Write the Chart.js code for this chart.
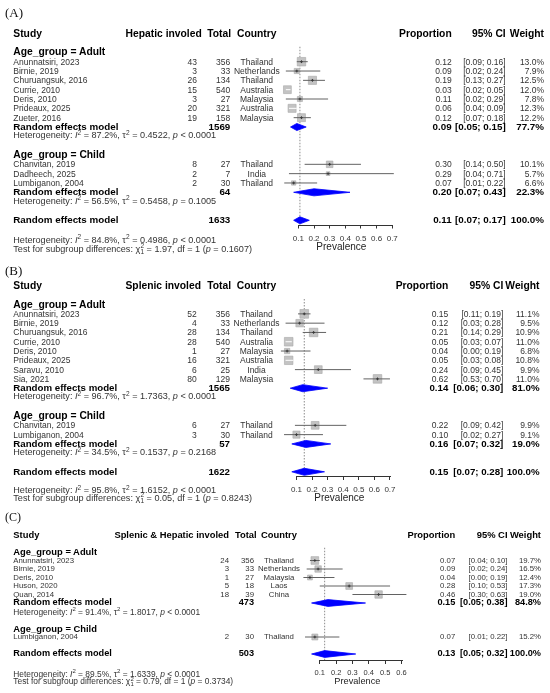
<!DOCTYPE html>
<html>
<head>
<meta charset="utf-8">
<script src="https://cdn.jsdelivr.net/npm/chart.js@4.4.1/dist/chart.umd.min.js"></script>
<style>
html,body{margin:0;padding:0;background:#fff;}
#root{position:relative;width:550px;height:693px;overflow:hidden;font-family:"Liberation Sans",Arial,Helvetica,sans-serif;}
#root canvas{position:absolute;left:0;}
.t{position:absolute;white-space:nowrap;line-height:1;color:#333;}
.sup{position:relative;top:-0.5em;font-size:0.72em;}
.ss{position:relative;display:inline-block;width:0.42em;height:0;}
.ss .sp,.ss .sb{position:absolute;left:0.05em;font-size:0.72em;line-height:1;}
.ss .sp{top:-1.37em;}
.ss .sb{top:-0.43em;}
.lab{font-family:"Liberation Serif","Times New Roman",serif;color:#111;}
</style>
</head>
<body>
<div id="root"></div>
<script>
// ================= DATA =================
// Shared x-axis ticks
const xTicksAB = [0.1, 0.2, 0.3, 0.4, 0.5, 0.6, 0.7];
const xTickLabelsAB = ["0.1", "0.2", "0.3", "0.4", "0.5", "0.6", "0.7"];
const xTicksC = [0.1, 0.2, 0.3, 0.4, 0.5, 0.6];
const xTickLabelsC = ["0.1", "0.2", "0.3", "0.4", "0.5", "0.6"];

// ---- (A) Hepatic involvement ----
const hepStudy = ["Anunnatsiri, 2023", "Birnie, 2019", "Churuangsuk, 2016", "Currie, 2010", "Deris, 2010", "Prideaux, 2025", "Zueter, 2016", "Chanvitan, 2019", "Dadheech, 2025", "Lumbiganon, 2004"];
const hepGroup = ["Adult", "Adult", "Adult", "Adult", "Adult", "Adult", "Adult", "Child", "Child", "Child"];
const hepEvents = [43, 3, 26, 15, 3, 20, 19, 8, 2, 2];
const hepTotal = [356, 33, 134, 540, 27, 321, 158, 27, 7, 30];
const hepCountry = ["Thailand", "Netherlands", "Thailand", "Australia", "Malaysia", "Australia", "Malaysia", "Thailand", "India", "Thailand"];
const hepProp = [0.12, 0.09, 0.19, 0.03, 0.11, 0.06, 0.12, 0.30, 0.29, 0.07];
const hepLower = [0.09, 0.02, 0.13, 0.02, 0.02, 0.04, 0.07, 0.14, 0.04, 0.01];
const hepUpper = [0.16, 0.24, 0.27, 0.05, 0.29, 0.09, 0.18, 0.50, 0.71, 0.22];
const hepWeight = [13.0, 7.9, 12.5, 12.0, 7.8, 12.3, 12.2, 10.1, 5.7, 6.6];
const hepSubgroups = ["Adult", "Child"];
const hepSubTotal = [1569, 64];
const hepSubProp = [0.09, 0.20];
const hepSubLower = [0.05, 0.07];
const hepSubUpper = [0.15, 0.43];
const hepSubWeight = [77.7, 22.3];
const hepSubI2 = [87.2, 56.5];
const hepSubTau2 = [0.4522, 0.5458];
const hepSubP = ["< 0.0001", "= 0.1005"];
const hepOverallTotal = 1633;
const hepOverallEst = [0.11, 0.07, 0.17, 100.0];   // prop, lower, upper, weight
const hepOverallHet = [84.8, 0.4986, "< 0.0001"];   // I2, tau2, p
const hepSubgroupTest = [1.97, 1, "0.1607"];        // chi2, df, p

// ---- (B) Splenic involvement ----
const splStudy = ["Anunnatsiri, 2023", "Birnie, 2019", "Churuangsuk, 2016", "Currie, 2010", "Deris, 2010", "Prideaux, 2025", "Saravu, 2010", "Sia, 2021", "Chanvitan, 2019", "Lumbiganon, 2004"];
const splGroup = ["Adult", "Adult", "Adult", "Adult", "Adult", "Adult", "Adult", "Adult", "Child", "Child"];
const splEvents = [52, 4, 28, 28, 1, 16, 6, 80, 6, 3];
const splTotal = [356, 33, 134, 540, 27, 321, 25, 129, 27, 30];
const splCountry = ["Thailand", "Netherlands", "Thailand", "Australia", "Malaysia", "Australia", "India", "Malaysia", "Thailand", "Thailand"];
const splProp = [0.15, 0.12, 0.21, 0.05, 0.04, 0.05, 0.24, 0.62, 0.22, 0.10];
const splLower = [0.11, 0.03, 0.14, 0.03, 0.00, 0.03, 0.09, 0.53, 0.09, 0.02];
const splUpper = [0.19, 0.28, 0.29, 0.07, 0.19, 0.08, 0.45, 0.70, 0.42, 0.27];
const splWeight = [11.1, 9.5, 10.9, 11.0, 6.8, 10.8, 9.9, 11.0, 9.9, 9.1];
const splSubgroups = ["Adult", "Child"];
const splSubTotal = [1565, 57];
const splSubProp = [0.14, 0.16];
const splSubLower = [0.06, 0.07];
const splSubUpper = [0.30, 0.32];
const splSubWeight = [81.0, 19.0];
const splSubI2 = [96.7, 34.5];
const splSubTau2 = [1.7363, 0.1537];
const splSubP = ["< 0.0001", "= 0.2168"];
const splOverallTotal = 1622;
const splOverallEst = [0.15, 0.07, 0.28, 100.0];
const splOverallHet = [95.8, 1.6152, "< 0.0001"];
const splSubgroupTest = [0.05, 1, "0.8243"];

// ---- (C) Splenic & hepatic involvement ----
const bothStudy = ["Anunnatsiri, 2023", "Birnie, 2019", "Deris, 2010", "Huson, 2020", "Quan, 2014", "Lumbiganon, 2004"];
const bothGroup = ["Adult", "Adult", "Adult", "Adult", "Adult", "Child"];
const bothEvents = [24, 3, 1, 5, 18, 2];
const bothTotal = [356, 33, 27, 18, 39, 30];
const bothCountry = ["Thailand", "Netherlands", "Malaysia", "Laos", "China", "Thailand"];
const bothProp = [0.07, 0.09, 0.04, 0.28, 0.46, 0.07];
const bothLower = [0.04, 0.02, 0.00, 0.10, 0.30, 0.01];
const bothUpper = [0.10, 0.24, 0.19, 0.53, 0.63, 0.22];
const bothWeight = [19.7, 16.5, 12.4, 17.3, 19.0, 15.2];
const bothSubgroups = ["Adult", "Child"];
const bothSubTotal = [473, null];
const bothSubProp = [0.15, null];
const bothSubLower = [0.05, null];
const bothSubUpper = [0.38, null];
const bothSubWeight = [84.8, null];
const bothSubI2 = [91.4, null];
const bothSubTau2 = [1.8017, null];
const bothSubP = ["< 0.0001", null];
const bothOverallTotal = 503;
const bothOverallEst = [0.13, 0.05, 0.32, 100.0];
const bothOverallHet = [89.5, 1.6339, "< 0.0001"];
const bothSubgroupTest = [0.79, 1, "0.3734"];

// ================= LAYOUT (styles / positions) =================
const layoutA = {top: 0, height: 262, px0: 282.7, unit: 156.5, xmax: 0.75, axisY: 224.5, row0: 33.7, step: 9.33,
  hetY: 240.7, testY: 250, labelY: 12, labelSize: 13, reg: 8.5, het: 9.1, bold: 10.3, sumBold: 9.8, tickFont: 8, titleFont: 10,
  tickPad: 5.5, titlePadTop: -8, boxMax: 8.5, dH: 0.38, refTop: 1.4,
  cols: {study: 13.3, evHdrR: 201.7, evR: 197, totHdrR: 231, totR: 230.3, countryC: 256.8, propR: 451.7, ciR: 505.7, wR: 544}};
const layoutB = {top: 262, height: 248, px0: 280.9, unit: 155.8, xmax: 0.75, axisY: 476, row0: 286, step: 9.29,
  hetY: 491, testY: 499.3, labelY: 270, labelSize: 13, reg: 8.5, het: 9.1, bold: 10.3, sumBold: 9.7, tickFont: 8, titleFont: 10,
  tickPad: 4.5, titlePadTop: -6.8, boxMax: 8.7, dH: 0.38, refTop: 1.4,
  cols: {study: 13.3, evHdrR: 201, evR: 196.7, totHdrR: 231, totR: 230, countryC: 256.5, propR: 448.3, ciR: 503.3, wR: 539.5}};
const layoutC = {top: 510, height: 183, px0: 303.4, unit: 163.5, xmax: 0.66, axisY: 660, row0: 535, step: 8.5,
  hetY: 673.5, testY: 681, labelY: 516.7, labelSize: 12, reg: 7.8, het: 8.4, bold: 9.4, sumBold: 9.2, tickFont: 7.5, titleFont: 9.2,
  tickPad: 4.8, titlePadTop: -7, boxMax: 7.7, dH: 0.4, refTop: 1.5,
  cols: {study: 13.3, evHdrR: 229, evR: 229, totHdrR: 256.7, totR: 254, countryC: 279, propR: 455.3, ciR: 507.5, wR: 541}};

// ================= RENDER =================
const root = document.getElementById('root');
Chart.defaults.font.family = '"Liberation Sans", Arial, sans-serif';
const esc = s => String(s).replace(/&/g, '&amp;').replace(/</g, '&lt;').replace(/>/g, '&gt;');

function put(html, x, y, size, align, bold, extraClass) {
  const d = document.createElement('div');
  d.className = 't' + (extraClass ? ' ' + extraClass : '');
  d.innerHTML = html;
  d.style.left = x + 'px';
  d.style.top = y + 'px';
  d.style.fontSize = size + 'px';
  if (bold) { d.style.fontWeight = 'bold'; d.style.color = '#000'; }
  const tx = align === 'r' ? '-100%' : align === 'c' ? '-50%' : '0';
  d.style.transform = 'translate(' + tx + ',-50%)';
  root.appendChild(d);
}
const hetHTML = (i2, tau2, p) =>
  'Heterogeneity: <i>I</i><span class="sup">2</span> = ' + i2.toFixed(1) + '%, \u03c4<span class="sup">2</span> = ' +
  tau2.toFixed(4) + ', <i>p</i> ' + esc(p);
const testHTML = (chi2, df, p) =>
  'Test for subgroup differences: \u03c7<span class="ss"><span class="sp">2</span><span class="sb">' + df +
  '</span></span> = ' + chi2.toFixed(2) + ', df = ' + df + ' (<i>p</i> = ' + p + ')';
const ci = (lo, hi) => '[' + lo.toFixed(2) + '; ' + hi.toFixed(2) + ']';

const axisLinePlugin = {
  id: 'axisLine',
  afterDraw(chart) {
    const xs = chart.scales.x, t = xs.ticks, ctx = chart.ctx;
    const y = Math.round(chart.chartArea.bottom) + 0.5;
    ctx.save();
    ctx.strokeStyle = '#333';
    ctx.lineWidth = 1;
    ctx.beginPath();
    ctx.moveTo(Math.round(xs.getPixelForValue(t[0].value)), y);
    ctx.lineTo(Math.round(xs.getPixelForValue(t[t.length - 1].value)) + 1, y);
    ctx.stroke();
    ctx.restore();
  }
};

function makePanel(P, L) {
  const cv = document.createElement('canvas');
  cv.width = 550; cv.height = L.height;
  cv.style.top = L.top + 'px'; cv.style.width = '550px'; cv.style.height = L.height + 'px';
  root.appendChild(cv);

  // row assignment
  const rows = [];
  let r = 2;
  P.subgroups.forEach((g, gi) => {
    rows.push({kind: 'heading', r, gi}); r++;
    P.group.forEach((gg, i) => { if (gg === g) { rows.push({kind: 'study', r, i}); r++; } });
    if (P.subTotal[gi] != null) { rows.push({kind: 'sub', r, gi}); r++; rows.push({kind: 'het', r, gi}); r++; }
    r++;
  });
  const overallRow = r;
  const studyRow = {};
  rows.forEach(o => { if (o.kind === 'study') studyRow[o.i] = o.r; });

  const maxW = Math.max(...P.weight);
  const sides = P.weight.map(w => L.boxMax * w / maxW);
  const inside = P.prop.map((v, i) => (P.hi[i] - P.lo[i]) * L.unit <= sides[i]);

  const datasets = [];
  datasets.push({type: 'line', data: [{x: P.ovEst[0], y: L.refTop}, {x: P.ovEst[0], y: 100}],
    borderColor: '#8c8c8c', borderWidth: 1, borderDash: [1.5, 1.5], pointRadius: 0, order: 10});
  datasets.push({type: 'scatter', data: P.prop.map((v, i) => ({x: v, y: studyRow[i]})),
    pointStyle: 'rect', pointRadius: sides.map(s => s / Math.SQRT2), backgroundColor: '#c3c3c3',
    borderColor: '#a8a8a8', borderWidth: 0.6, order: 5, clip: false});
  P.prop.forEach((v, i) => {
    datasets.push({type: 'line', data: [{x: P.lo[i], y: studyRow[i]}, {x: P.hi[i], y: studyRow[i]}],
      borderColor: inside[i] ? '#ffffff' : '#626262', borderWidth: 1, pointRadius: 0, order: 2, clip: false});
  });
  datasets.push({type: 'scatter', data: P.prop.map((v, i) => ({x: v, y: studyRow[i]})).filter((d, i) => !inside[i]),
    pointStyle: 'cross', pointRadius: 1.4, borderColor: '#3a3a3a', borderWidth: 1, order: 1, clip: false});
  const diamond = (row, est, lo, hi) => ({type: 'line',
    data: [{x: lo, y: row}, {x: est, y: row - L.dH}, {x: hi, y: row}, {x: est, y: row + L.dH}, {x: lo, y: row}],
    fill: 'shape', backgroundColor: '#0000ff', borderColor: '#0000ff', borderWidth: 0.8, pointRadius: 0,
    tension: 0, order: 0, clip: false});
  rows.forEach(o => {
    if (o.kind === 'sub') datasets.push(diamond(o.r, P.subProp[o.gi], P.subLo[o.gi], P.subHi[o.gi]));
  });
  datasets.push(diamond(overallRow, P.ovEst[0], P.ovEst[1], P.ovEst[2]));

  const padding = {left: L.px0, right: 550 - (L.px0 + L.xmax * L.unit), top: 0, bottom: 8};
  const chart = new Chart(cv.getContext('2d'), {
    type: 'scatter',
    data: {datasets},
    options: {
      responsive: false, animation: false, events: [],
      layout: {padding},
      plugins: {legend: {display: false}, tooltip: {enabled: false}},
      scales: {
        x: {
          type: 'linear', position: 'bottom', min: 0, max: L.xmax,
          afterBuildTicks: s => { s.ticks = P.ticks.map(v => ({value: v})); },
          ticks: {autoSkip: false, maxRotation: 0, minRotation: 0, padding: L.tickPad,
            font: {size: L.tickFont}, color: '#333', callback: (v, i) => P.tickLabels[i]},
          grid: {display: true, drawOnChartArea: false, drawTicks: true, tickLength: 4, color: '#333', lineWidth: 1},
          border: {display: false},
          title: {display: true, text: 'Prevalence', font: {size: L.titleFont}, color: '#222',
            padding: {top: L.titlePadTop, bottom: 0}}
        },
        y: {type: 'linear', display: false, reverse: true, min: -4, max: 25}
      }
    },
    plugins: [axisLinePlugin]
  });
  for (let k = 0; k < 2; k++) {
    padding.bottom += chart.chartArea.bottom - (L.axisY - L.top);
    chart.update('none');
  }
  const ca = chart.chartArea;
  chart.config.options.scales.y.min = (L.top + ca.top - L.row0) / L.step;
  chart.config.options.scales.y.max = (L.top + ca.bottom - L.row0) / L.step;
  chart.update('none');

  // ----- text columns, placed through the y scale -----
  const ys = chart.scales.y;
  const Y = row => L.top + ys.getPixelForValue(row);
  const C = L.cols;
  put(P.label, 5, L.labelY, L.labelSize, 'l', false, 'lab');
  const y0 = Y(0);
  put('Study', C.study, y0, L.bold, 'l', true);
  put(esc(P.eventsHeader), C.evHdrR, y0, L.bold, 'r', true);
  put('Total', C.totHdrR, y0, L.bold, 'r', true);
  put('Country', C.countryC, y0, L.bold, 'c', true);
  put('Proportion', C.propR, y0, L.bold, 'r', true);
  put('95% CI', C.ciR, y0, L.bold, 'r', true);
  put('Weight', C.wR, y0, L.bold, 'r', true);
  rows.forEach(o => {
    const y = Y(o.r);
    if (o.kind === 'heading') {
      put('Age_group = ' + P.subgroups[o.gi], C.study, y, L.bold, 'l', true);
    } else if (o.kind === 'study') {
      const i = o.i;
      put(esc(P.study[i]), C.study, y, L.reg, 'l');
      put(String(P.events[i]), C.evR, y, L.reg, 'r');
      put(String(P.total[i]), C.totR, y, L.reg, 'r');
      put(P.country[i], C.countryC, y, L.reg, 'c');
      put(P.prop[i].toFixed(2), C.propR, y, L.reg, 'r');
      put(ci(P.lo[i], P.hi[i]), C.ciR, y, L.reg, 'r');
      put(P.weight[i].toFixed(1) + '%', C.wR, y, L.reg, 'r');
    } else if (o.kind === 'sub') {
      const g = o.gi;
      put('Random effects model', C.study, y, L.sumBold, 'l', true);
      put(String(P.subTotal[g]), C.totR, y, L.sumBold, 'r', true);
      put(P.subProp[g].toFixed(2), C.propR, y, L.sumBold, 'r', true);
      put(ci(P.subLo[g], P.subHi[g]), C.ciR, y, L.sumBold, 'r', true);
      put(P.subW[g].toFixed(1) + '%', C.wR, y, L.sumBold, 'r', true);
    } else if (o.kind === 'het') {
      const g = o.gi;
      put(hetHTML(P.subI2[g], P.subTau2[g], P.subP[g]), C.study, y, L.het, 'l');
    }
  });
  const yo = Y(overallRow);
  put('Random effects model', C.study, yo, L.sumBold, 'l', true);
  put(String(P.ovTotal), C.totR, yo, L.sumBold, 'r', true);
  put(P.ovEst[0].toFixed(2), C.propR, yo, L.sumBold, 'r', true);
  put(ci(P.ovEst[1], P.ovEst[2]), C.ciR, yo, L.sumBold, 'r', true);
  put(P.ovEst[3].toFixed(1) + '%', C.wR, yo, L.sumBold, 'r', true);
  put(hetHTML(P.ovHet[0], P.ovHet[1], P.ovHet[2]), C.study, L.hetY, L.het, 'l');
  put(testHTML(P.test[0], P.test[1], P.test[2]), C.study, L.testY, L.het, 'l');
}

makePanel({label: '(A)', eventsHeader: 'Hepatic involed', study: hepStudy, group: hepGroup, events: hepEvents,
  total: hepTotal, country: hepCountry, prop: hepProp, lo: hepLower, hi: hepUpper, weight: hepWeight,
  subgroups: hepSubgroups, subTotal: hepSubTotal, subProp: hepSubProp, subLo: hepSubLower, subHi: hepSubUpper,
  subW: hepSubWeight, subI2: hepSubI2, subTau2: hepSubTau2, subP: hepSubP, ovTotal: hepOverallTotal,
  ovEst: hepOverallEst, ovHet: hepOverallHet, test: hepSubgroupTest, ticks: xTicksAB, tickLabels: xTickLabelsAB}, layoutA);
makePanel({label: '(B)', eventsHeader: 'Splenic involed', study: splStudy, group: splGroup, events: splEvents,
  total: splTotal, country: splCountry, prop: splProp, lo: splLower, hi: splUpper, weight: splWeight,
  subgroups: splSubgroups, subTotal: splSubTotal, subProp: splSubProp, subLo: splSubLower, subHi: splSubUpper,
  subW: splSubWeight, subI2: splSubI2, subTau2: splSubTau2, subP: splSubP, ovTotal: splOverallTotal,
  ovEst: splOverallEst, ovHet: splOverallHet, test: splSubgroupTest, ticks: xTicksAB, tickLabels: xTickLabelsAB}, layoutB);
makePanel({label: '(C)', eventsHeader: 'Splenic & Hepatic involed', study: bothStudy, group: bothGroup, events: bothEvents,
  total: bothTotal, country: bothCountry, prop: bothProp, lo: bothLower, hi: bothUpper, weight: bothWeight,
  subgroups: bothSubgroups, subTotal: bothSubTotal, subProp: bothSubProp, subLo: bothSubLower, subHi: bothSubUpper,
  subW: bothSubWeight, subI2: bothSubI2, subTau2: bothSubTau2, subP: bothSubP, ovTotal: bothOverallTotal,
  ovEst: bothOverallEst, ovHet: bothOverallHet, test: bothSubgroupTest, ticks: xTicksC, tickLabels: xTickLabelsC}, layoutC);
</script>
</body>
</html>
